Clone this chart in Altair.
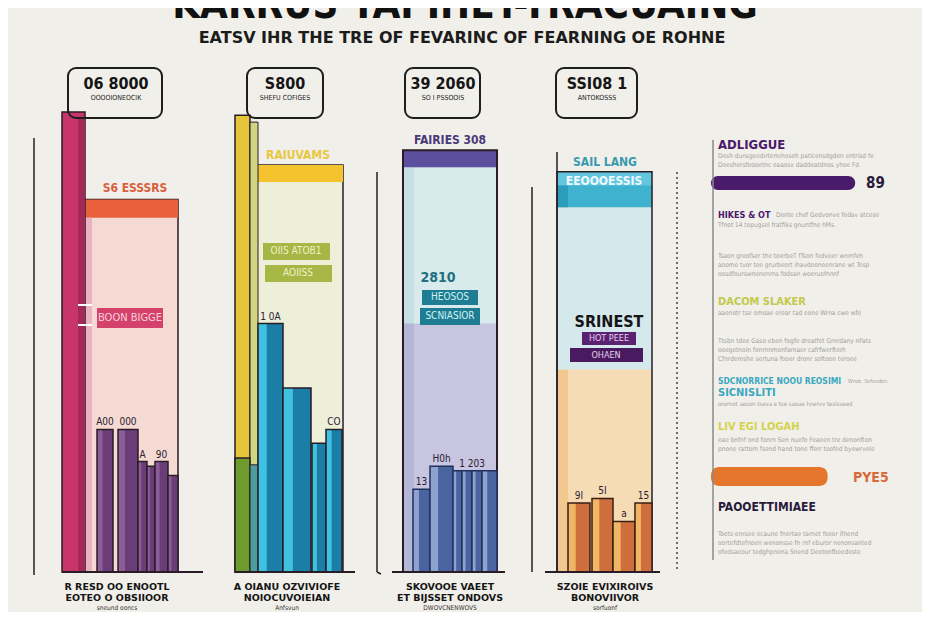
import altair as alt
import pandas as pd

# ---------------- data ----------------
title_text = "KARRUS  TAPIHET-TRACUAING"
subtitle_text = "EATSV IHR THE TRE OF FEVARINC OF FEARNING OE ROHNE"

box_values = ["06 8000", "S800", "39 2060", "SSI08 1"]
box_captions = ["OOOOIONEOCIK", "SHEFU COFIGES", "SO I PSSOOIS", "ANTOKOSSS"]

tall_values = [100, 99.3]                 # pillar bars of panels 1 and 2
column_values = [81, 88.5, 91.7, 87]       # background columns
column_split = [None, None, 54, 44]        # lower tint level in panels 3 and 4

p1_vals = [31, 31, 24, 23, 24, 21]
p2_vals = [54, 40, 28, 31]
p3_vals = [18, 23, 22, 22, 22, 22]
p4_vals = [15, 16, 11, 15]
p1_tags = ["A00", "000", "A", "", "90", ""]
p2_tags = ["1 0A", "", "", "CO"]
p3_tags = ["13", "H0h", "", "1 203", "", ""]
p4_tags = ["9I", "5I", "a", "15"]

column_heads = ["S6 ESSSRS", "RAIUVAMS", "FAIRIES 308", "SAIL LANG"]
bottom_line1 = ["R RESD OO ENOOTL", "A OIANU OZVIVIOFE", "SKOVOOE VAEET", "SZOIE EVIXIROIVS"]
bottom_line2 = ["EOTEO O OBSIIOOR", "NOIOCUVOIEIAN", "ET BIJSSET ONDOVS", "BONOVIIVOR"]
bottom_line3 = ["sneund ooncs", "Anfsvun", "DWOVCNENWOVS", "sorfuonf"]

right_bar_values = [89, 72]
right_bar_tags = ["89", "PYE5"]

# ---------------- layout helpers ----------------
def vy(py):
    return (572 - py) / 4.6

DARK = "#2a1c26"
rects, rounded, rules, dotted = [], [], [], []
texts = {}

def R(x1, x2, y1, y2, fill, stroke="transparent", sw=0, target=None):
    (rects if target is None else target).append(
        dict(x=x1, x2=x2, y=y1, y2=y2, fill=fill, stroke=stroke, sw=sw))

def L(x1, py1, x2, py2, color=DARK, w=1.5, target=None):
    (rules if target is None else target).append(
        dict(x=x1, x2=x2, y=vy(py1), y2=vy(py2), color=color, w=w))

def T(style, x, py, text, color, size):
    texts.setdefault(style, []).append(dict(x=x, y=vy(py), text=text, color=color, size=size))

def bars(edges, vals, fill, light, dark=DARK):
    for (a, b), v in zip(edges, vals):
        R(a, b, 0, v, fill)
        R(a, a + (b - a) * 0.35, 0, v, light)
        R(a, b, 0, v, "transparent", dark, 1.5)

# ---- panel 1 ----
cv = column_values[0]
R(85, 178, 0, cv, "#f4dad2", DARK, 1.5)
R(85, 178, cv - 4, cv, "#e8603c")
R(85, 92, 0, cv - 4, "#e9b2c0")
R(62, 85, 0, tall_values[0], "#c8356a", DARK, 1.5)
R(78, 85, 0, tall_values[0] - 1.5, "#a32a58")
R(97, 163, vy(328), vy(308), "#d4416a")
bars([(97, 113), (118, 138), (138, 147), (147, 155), (155, 168), (168, 178)],
     p1_vals, "#6b3d78", "#8c5d98")

# ---- panel 2 ----
cv = column_values[1]
R(250, 343, 0, cv, "#edefd9", DARK, 1.5)
R(250, 343, cv - 3.7, cv, "#f4c32e")
R(235, 250, 0, tall_values[1], "#e7c53a", DARK, 1.5)
R(250, 258, 0, tall_values[1] - 1.5, "#d3d680", DARK, 1)
R(235, 250, 0, 24.8, "#6e9b2e", DARK, 1.5)
R(250, 258, 0, 23.3, "#4e9c9c", DARK, 1)
R(263, 330, vy(260), vy(243), "#a6b745")
R(265, 332, vy(282), vy(265), "#a6b745")
bars([(258, 283), (283, 311), (312, 326), (326, 342)], p2_vals, "#1b7ea6", "#3fc2e2")

# ---- panel 3 ----
cv = column_values[2]
sp = column_split[2]
R(403, 497, 0, cv, "#c7c5df")
R(403, 497, sp, cv - 3.7, "#d9eaed")
R(403, 414, sp, cv - 3.7, "#c8dfe4")
R(403, 414, 0, sp, "#b4b6d6")
R(403, 497, cv - 3.7, cv, "#5b4f9e")
R(403, 497, 0, cv, "transparent", DARK, 2)
R(422, 478, vy(305), vy(290), "#1e7d92")
R(420, 480, vy(325), vy(308), "#1e7d92")
bars([(413, 430), (430, 453), (453, 462), (462, 472), (472, 482), (482, 497)],
     p3_vals, "#4a64a0", "#8da2cf", "#22305e")

# ---- panel 4 ----
cv = column_values[3]
sp = column_split[3]
R(557, 652, 0, cv, "#f6dcb5")
R(557, 568, 0, sp, "#f1c98f")
R(557, 652, sp, 79.3, "#d5e8ec")
R(557, 652, 79.3, cv, "#3eb2cf")
R(557, 652, 84, cv, "#62c6de")
R(557, 568, 79.3, 84, "#2b9cbc")
R(557, 652, 0, cv, "transparent", DARK, 1.5)
R(582, 636, vy(345), vy(332), "#5a2270")
R(570, 643, vy(362), vy(348), "#4a1a60")
bars([(568, 590), (592, 613), (613, 635), (635, 652)], p4_vals, "#cd6e3c", "#f0b565", "#3a1e14")

# ---- right panel bars ----
R(711, 711 + right_bar_values[0] * 1.62, vy(190), vy(176), "#4b1b6b", target=rounded)
R(711, 711 + right_bar_values[1] * 1.62, vy(486), vy(467), "#e4772c", target=rounded)

# ---- top boxes ----
for (a, b) in [(68, 162), (247, 323), (405, 480), (556, 637)]:
    R(a, b, vy(118), vy(68), "transparent", "#1e1e1e", 2, target=rounded)

# ---- lines ----
L(34, 138, 34, 575)
L(377, 172, 377, 572)
L(377, 572, 381, 574, w=1.5)
L(532, 187, 532, 572)
L(557, 152, 557, 572)
L(713, 140, 713, 560, "#8a8a8a", 1.5)
L(677, 172, 677, 570, "#444444", 1.5, target=dotted)
for a, b in [(62, 203), (235, 355), (392, 505), (545, 660)]:
    L(a, 572, b, 572, DARK, 2)
L(78, 305, 92, 305, "#ffffff", 2)
L(78, 325, 92, 325, "#ffffff", 2)

# ---- texts ----
COND = "DejaVu Sans Condensed, Liberation Sans Narrow, sans-serif"
T(("title", COND, "bold", "center", "alphabetic"), 465, 18, title_text, "#111111", 40)
T(("sub", "DejaVu Sans", "bold", "center", "middle"), 462, 38, subtitle_text, "#1c1c1c", 16)

box_centers = [116, 285, 443, 597]
for cx, v, c in zip(box_centers, box_values, box_captions):
    T(("boxv", COND, "bold", "center", "middle"), cx, 84, v, "#151515", 16)
    T(("boxc", "DejaVu Sans Condensed", "normal", "center", "middle"), cx, 98, c, "#222222", 7)

head_pos = [(135, 188, "#d8603c"), (298, 155, "#e8c840"), (450, 140, "#4a3a7a"), (605, 162, "#3a9ab0")]
for (x, py, col), t in zip(head_pos, column_heads):
    T(("head", COND, "bold", "center", "middle"), x, py, t, col, 12)

for cx, a, b, c in zip([117, 287, 450, 605], bottom_line1, bottom_line2, bottom_line3):
    T(("bot", "DejaVu Sans", "bold", "center", "middle"), cx, 587, a, "#151515", 9.5)
    T(("bot", "DejaVu Sans", "bold", "center", "middle"), cx, 598, b, "#151515", 9.5)
    T(("botc", "DejaVu Sans Condensed", "normal", "center", "middle"), cx, 607.5, c, "#333333", 6.5)

# bar tags
def tags(edges, vals, tg):
    for (a, b), v, t in zip(edges, vals, tg):
        if t:
            T(("tag", COND, "normal", "center", "alphabetic"), (a + b) / 2, 572 - v * 4.6 - 4, t, "#2a2030", 10)

tags([(97, 113), (118, 138), (138, 147), (147, 155), (155, 168), (168, 178)], p1_vals, p1_tags)
tags([(258, 283), (283, 311), (312, 326), (326, 342)], p2_vals, p2_tags)
tags([(413, 430), (430, 453), (453, 462), (462, 482), (472, 482), (482, 497)], p3_vals, p3_tags)
tags([(568, 590), (592, 613), (613, 635), (635, 652)], p4_vals, p4_tags)

# inner labels
T(("lab", COND, "normal", "center", "middle"), 130, 318, "BOON BIGGE", "#f8d0da", 11)
T(("lab", COND, "normal", "center", "middle"), 296, 251, "OIIS ATOB1", "#eef2c6", 10)
T(("lab", COND, "normal", "center", "middle"), 298, 273, "AOIISS", "#eef2c6", 10)
T(("lab", COND, "normal", "center", "middle"), 450, 297, "HEOSOS", "#d2f2f4", 10)
T(("lab", COND, "normal", "center", "middle"), 450, 316, "SCNIASIOR", "#d2f2f4", 10)
T(("lab", COND, "normal", "center", "middle"), 609, 338, "HOT PEEE", "#e8d0ee", 9)
T(("lab", COND, "normal", "center", "middle"), 606, 355, "OHAEN", "#e8d0ee", 9)
T(("labb", COND, "bold", "center", "middle"), 604, 181, "EEOOOESSIS", "#eefaff", 12)
T(("labb", COND, "bold", "center", "middle"), 438, 278, "2810", "#1f6f80", 14)
T(("labb", COND, "bold", "center", "middle"), 609, 322, "SRINEST", "#151515", 16)

# right panel text
RB = ("rb", COND, "bold", "left", "middle")
RG = ("rg", "DejaVu Sans Condensed", "normal", "left", "middle")
gray = "#a2a09c"
T(RB, 718, 145, "ADLIGGUE", "#4a1a6a", 13)
T(RG, 718, 156, "Desh dunsgeedirtem/noseh paticensdgden entrisd fe", gray, 6.5)
T(RG, 718, 165, "Deeshersfoooetnc eaaosx daddeatdnos yhoe Fd", gray, 6.5)
T(("rbig", COND, "bold", "left", "middle"), 866, 183, right_bar_tags[0], "#2a1a3a", 15)
T(RB, 718, 215, "HIKES & OT", "#4a1a6a", 9)
T(RG, 776, 215, "Dente chef Gedvonve fedav atcese", gray, 6.5)
T(RG, 718, 225, "Tfnot 14 tepugsel fratfiks gnuntfne hMs.", gray, 6.5)
T(RG, 718, 256, "Tsaon greofser the toerbeT fTson fedveer wnmfeh", gray, 6.5)
T(RG, 718, 265, "aoome tvor tee grurbeort ihavdeoneenrane wt Tesp", gray, 6.5)
T(RG, 718, 274, "oosdfourswnenenrns fodsan woeruofnnnf", gray, 6.5)
T(RB, 718, 302, "DACOM SLAKER", "#c3c94a", 11)
T(RG, 718, 313, "aaenotr tse omoae erear tad eone Wrna cwe wfe", gray, 6.5)
T(RG, 718, 341, "Ttsbn tdee Gaso eben fogfe dreatfet Grnrdany nFats", gray, 6.5)
T(RG, 718, 350, "ooegetnoin fonrnnmonfarnaer cafrfwerfterh", gray, 6.5)
T(RG, 718, 359, "Cfnrdereshe sertuna fooer dronr softoon teroee", gray, 6.5)
T(RB, 718, 381, "SDCNORRICE NOOU REOSIMI", "#3aa8c0", 8.5)
T(RG, 848, 381, "Wnot. Sefvnden", gray, 5.5)
T(RB, 718, 393, "SICNISLITI", "#3aa8c0", 11)
T(RG, 718, 404, "orernot aeson tseva e tse saoae hnervv teslsseed", gray, 6)
T(RB, 718, 427, "LIV EGI LOGAH", "#d3d34a", 11)
T(RG, 718, 440, "eae bnfnf ond fonrn Sen nuefo Feaeen tre denonfton", gray, 6.5)
T(RG, 718, 449, "pnone rattom fsend hand tone fferr toofed byewrvele", gray, 6.5)
T(("rbig", COND, "bold", "left", "middle"), 853, 478, right_bar_tags[1], "#d86a3a", 14)
T(RB, 718, 507, "PAOOETTIMIAEE", "#2a1a3a", 12)
T(RG, 718, 534, "Toets enrsee ecaune fnertae tarnet foeor ifnend", gray, 6.5)
T(RG, 718, 543, "oortefdtefnoen wenonsse fn rnf eburor nenonsanted", gray, 6.5)
T(RG, 718, 552, "ofedsaeour tedghpnena Snend Deetonfbeedeste", gray, 6.5)

# ---------------- chart ----------------
XS = alt.Scale(domain=[8, 922])
YS = alt.Scale(domain=[vy(612), vy(8)])

def rect_layer(rows, radius=0):
    df = pd.DataFrame(rows)
    m = alt.Chart(df).mark_rect(cornerRadius=radius) if radius else alt.Chart(df).mark_rect()
    return m.encode(
        x=alt.X("x:Q", scale=XS, axis=None), x2="x2:Q",
        y=alt.Y("y:Q", scale=YS, axis=None), y2="y2:Q",
        fill=alt.Fill("fill:N", scale=None),
        stroke=alt.Stroke("stroke:N", scale=None),
        strokeWidth=alt.StrokeWidth("sw:Q", scale=None),
    )

def rule_layer(rows, dash=None):
    df = pd.DataFrame(rows)
    m = alt.Chart(df).mark_rule(strokeDash=dash) if dash else alt.Chart(df).mark_rule()
    return m.encode(
        x=alt.X("x:Q", scale=XS, axis=None), x2="x2:Q",
        y=alt.Y("y:Q", scale=YS, axis=None), y2="y2:Q",
        color=alt.Color("color:N", scale=None),
        strokeWidth=alt.StrokeWidth("w:Q", scale=None),
    )

layers = [rect_layer(rects), rect_layer(rounded, radius=8), rule_layer(rules), rule_layer(dotted, [2, 3])]
for (name, font, weight, align, baseline), rows in texts.items():
    df = pd.DataFrame(rows)
    layers.append(
        alt.Chart(df).mark_text(font=font, fontWeight=weight, align=align, baseline=baseline).encode(
            x=alt.X("x:Q", scale=XS, axis=None),
            y=alt.Y("y:Q", scale=YS, axis=None),
            text="text:N",
            color=alt.Color("color:N", scale=None),
            size=alt.Size("size:Q", scale=None),
        )
    )

chart = alt.layer(*layers).properties(
    width=914, height=604, padding=0, background="#f1efea",
    autosize=alt.AutoSizeParams(type="none"),
).configure_view(stroke=None)

chart.save("out.html", embed_options={"renderer": "svg", "actions": False})
